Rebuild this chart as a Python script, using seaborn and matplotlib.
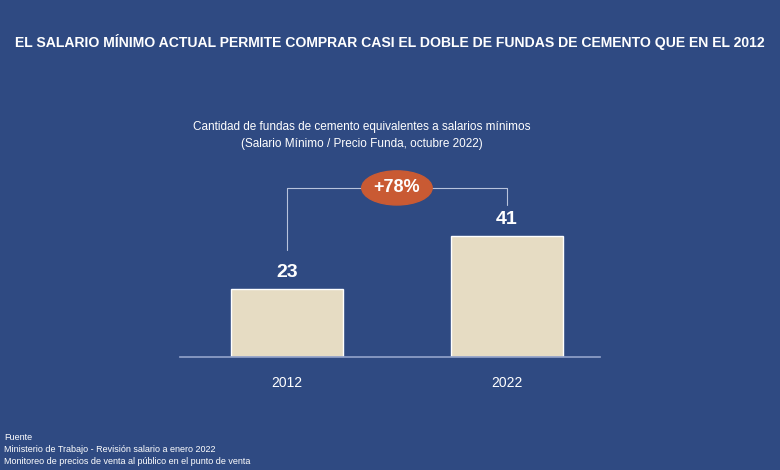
import matplotlib
matplotlib.use("Agg")
import matplotlib.pyplot as plt
import seaborn as sns
from matplotlib.patches import Ellipse

years = ["2012", "2022"]
fundas = [23, 41]
change_label = "+78%"

bg = "#2f4a82"
sns.set_theme(style="white")
plt.rcParams['font.family'] = ['Liberation Sans', 'DejaVu Sans']

fig = plt.figure(figsize=(7.8, 4.7), dpi=100, facecolor=bg)
ax = fig.add_axes([180/780, 1-357/470, 420/780, 257/470])
ax.set_facecolor(bg)
sns.barplot(x=years, y=fundas, color="#e6dcc3", width=0.51, ax=ax, saturation=1)
ax.set_xlim(-0.486, 1.423)
ax.set_ylim(0, 87.4)
for s in ["top", "right", "left"]:
    ax.spines[s].set_visible(False)
ax.spines["bottom"].set_color("#8fa0c8")
ax.set_yticks([])
ax.tick_params(axis="x", colors="white", labelsize=10, length=0, pad=14)
for i, v in enumerate(fundas):
    ax.text(i, v + 3, str(v), ha="center", va="bottom", color="white", fontsize=14, fontweight="bold")

lc = "#b8c3dc"
ax.plot([0, 0, 1, 1], [36.4, 57.5, 57.5, 51.7], color=lc, lw=0.8)
ax.add_patch(Ellipse((0.5, 57.5), 0.32, 11.6, color="#c95a33", zorder=5))
ax.text(0.5, 57.5, change_label, ha="center", va="center", color="white", fontsize=13, fontweight="bold", zorder=6)

fig.text(0.5, 1-42/470, "EL SALARIO MÍNIMO ACTUAL PERMITE COMPRAR CASI EL DOBLE DE FUNDAS DE CEMENTO QUE EN EL 2012",
         ha="center", va="center", color="white", fontsize=10.1, fontweight="bold")
fig.text(362/780, 1-127/470, "Cantidad de fundas de cemento equivalentes a salarios mínimos", ha="center", va="center", color="white", fontsize=8.5)
fig.text(362/780, 1-144/470, "(Salario Mínimo / Precio Funda, octubre 2022)", ha="center", va="center", color="white", fontsize=8.5)

fig.text(4/780, 1-437/470, "Fuente", ha="left", va="center", color="white", fontsize=6.5)
fig.text(4/780, 1-449/470, "Ministerio de Trabajo - Revisión salario a enero 2022", ha="left", va="center", color="white", fontsize=6.5)
fig.text(4/780, 1-461/470, "Monitoreo de precios de venta al público en el punto de venta", ha="left", va="center", color="white", fontsize=6.5)

fig.savefig("out.png", dpi=100, facecolor=bg)
